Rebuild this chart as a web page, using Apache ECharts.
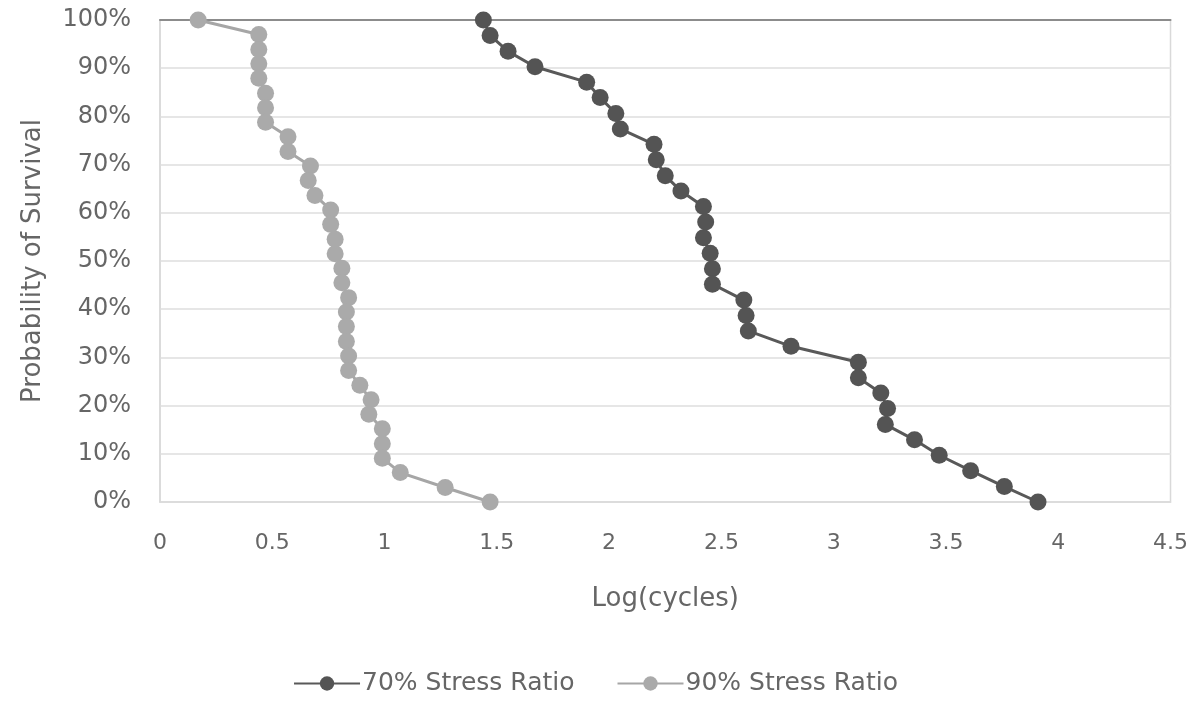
<!DOCTYPE html>
<html>
<head>
<meta charset="UTF-8" />
<title>Probability of Survival</title>
<script src="https://cdn.jsdelivr.net/npm/echarts@6/dist/echarts.min.js"></script>
<style>
  html, body { margin: 0; padding: 0; background: #fff; }
  #main { width: 1191px; height: 703px; }
</style>
</head>
<body>
<div id="main"></div>
<script type="text/javascript">

    // 70% stress ratio: log(cycles) and survival probability
    var logCycles70 = [1.44, 1.47, 1.55, 1.67, 1.90, 1.96, 2.03, 2.05, 2.20, 2.21,
                       2.25, 2.32, 2.42, 2.43, 2.42, 2.45, 2.46, 2.46, 2.60, 2.61,
                       2.62, 2.81, 3.11, 3.11, 3.21, 3.24, 3.23, 3.36, 3.47, 3.61,
                       3.76, 3.91];
    var survival70 = [1.000, 0.968, 0.935, 0.903, 0.871, 0.839, 0.806, 0.774, 0.742, 0.710,
                      0.677, 0.645, 0.613, 0.581, 0.548, 0.516, 0.484, 0.452, 0.419, 0.387,
                      0.355, 0.323, 0.290, 0.258, 0.226, 0.194, 0.161, 0.129, 0.097, 0.065,
                      0.032, 0.000];

    // 90% stress ratio
    var logCycles90 = [0.17, 0.44, 0.44, 0.44, 0.44, 0.47, 0.47, 0.47, 0.57, 0.57,
                       0.67, 0.66, 0.69, 0.76, 0.76, 0.78, 0.78, 0.81, 0.81, 0.84,
                       0.83, 0.83, 0.83, 0.84, 0.84, 0.89, 0.94, 0.93, 0.99, 0.99,
                       0.99, 1.07, 1.27, 1.47];
    var survival90 = [1.000, 0.970, 0.939, 0.909, 0.879, 0.848, 0.818, 0.788, 0.758, 0.727,
                      0.697, 0.667, 0.636, 0.606, 0.576, 0.545, 0.515, 0.485, 0.455, 0.424,
                      0.394, 0.364, 0.333, 0.303, 0.273, 0.242, 0.212, 0.182, 0.152, 0.121,
                      0.091, 0.061, 0.030, 0.000];

    var seriesNames = ['70% Stress Ratio', '90% Stress Ratio'];

    // pair x and y up for the line series
    function toPoints(xs, ys) {
        var pts = [];
        for (let i = 0; i < xs.length; i++) {
            pts.push([xs[i], ys[i]]);
        }
        return pts;
    }

    var fontFam = '"DejaVu Sans", sans-serif';
    var textColor = '#666666';

    var option = {
        animation: false,
        backgroundColor: '#fff',
        textStyle: { fontFamily: fontFam },
        grid: {
            left: 160, right: 19, top: 20, bottom: 201,
            show: true, borderColor: '#d9d9d9', borderWidth: 1.5
        },
        legend: {
            data: seriesNames,
            bottom: 2,
            left: 'center',
            itemWidth: 66,
            itemHeight: 18,
            itemGap: 42,
            textStyle: { color: textColor, fontSize: 25, fontFamily: fontFam, padding: [0, 0, 0, -3] }
        },
        xAxis: [{
            type: 'value',
            min: 0,
            max: 4.5,
            interval: 0.5,
            name: 'Log(cycles)',
            nameLocation: 'middle',
            nameGap: 84,
            nameTextStyle: { color: textColor, fontSize: 26, fontFamily: fontFam },
            axisLine: { show: true, lineStyle: { color: '#d9d9d9', width: 1.5 } },
            axisTick: { show: false },
            splitLine: { show: false },
            axisLabel: { color: textColor, fontSize: 22, margin: 30, fontFamily: fontFam }
        }, {
            // darker line along the 100% edge
            type: 'value',
            position: 'top',
            min: 0,
            max: 4.5,
            axisLine: { show: true, lineStyle: { color: '#8c8c8c', width: 2 } },
            axisTick: { show: false },
            axisLabel: { show: false },
            splitLine: { show: false }
        }],
        yAxis: {
            type: 'value',
            min: 0,
            max: 1,
            interval: 0.1,
            name: 'Probability of Survival',
            nameLocation: 'middle',
            nameGap: 114,
            nameTextStyle: { color: textColor, fontSize: 26, fontFamily: fontFam },
            axisLine: { show: true, lineStyle: { color: '#d9d9d9', width: 1.5 } },
            axisTick: { show: false },
            splitLine: { lineStyle: { color: '#e6e6e6', width: 2 } },
            axisLabel: {
                color: textColor, fontSize: 24, margin: 29, fontFamily: fontFam,
                formatter: function (v) { return Math.round(v * 100) + '%'; }
            }
        },
        series: [{
            name: seriesNames[0],
            type: 'line',
            data: toPoints(logCycles70, survival70),
            symbol: 'circle',
            symbolSize: 17,
            lineStyle: { color: '#595959', width: 3 },
            itemStyle: { color: '#545454' },
            z: 3
        }, {
            name: seriesNames[1],
            type: 'line',
            data: toPoints(logCycles90, survival90),
            symbol: 'circle',
            symbolSize: 17,
            lineStyle: { color: '#a6a6a6', width: 3 },
            itemStyle: { color: '#aaaaaa' },
            z: 2
        }]
    };

    var myChart = echarts.init(document.getElementById('main'));
    myChart.setOption(option);
</script>
</body>
</html>
